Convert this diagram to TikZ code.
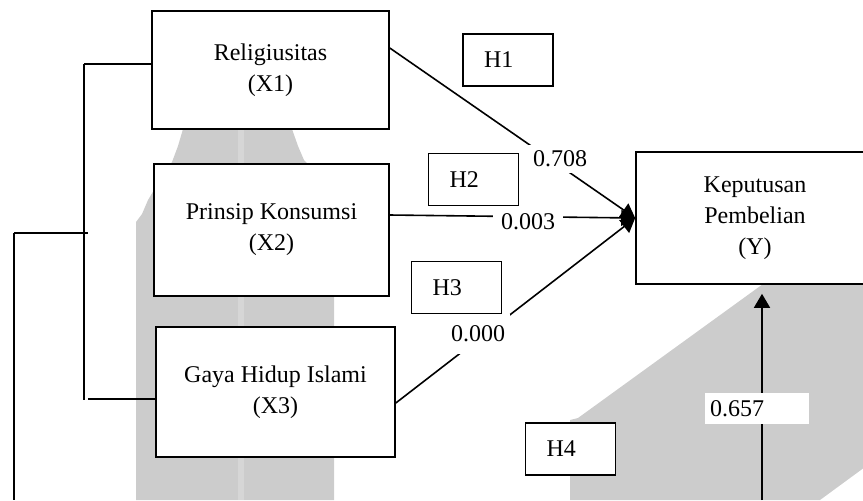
\documentclass[tikz,border=0pt]{standalone}
\usepackage{fontspec}
\setmainfont{Liberation Serif}
\usetikzlibrary{arrows.meta,calc}
\begin{document}
\begin{tikzpicture}[x=0.5pt,y=-0.5pt,
  every node/.style={font=\fontsize{12}{15.5}\selectfont},
  var/.style={draw, line width=0.8pt, fill=white, align=center, inner sep=0pt},
  hyp/.style={draw, line width=0.8pt, fill=white, align=left, inner xsep=10.5pt, inner ysep=0pt, text width=24pt, minimum height=26pt},
  coef/.style={fill=white, inner sep=0pt},
  link/.style={line width=0.8pt},
  arr/.style={line width=0.8pt, -{Triangle[length=7pt,width=8pt]}},
  wm/.style={fill=black!20, draw=none}]
\useasboundingbox (0,0) rectangle (863,500);
\clip (0,0) rectangle (863,500);
% watermark
\path[wm] (136,500) -- (136,222) -- (142,214) -- (148,200) -- (160,180) -- (172,162) -- (178,146) -- (183,129) -- (183,120) -- (292,120) -- (292,129) -- (298,146) -- (304,160) -- (310,166) -- (334,222) -- (334,500) -- cycle;
\path[fill=black!16] (238,120) rectangle (244,500);
\path[wm] (763,284) -- (880,284) -- (880,456) -- (820,500) -- (570,500) -- (570,420) -- (578,418) -- cycle;
% variable boxes
\node[var, minimum width=118.5pt, minimum height=59pt] (x1) at (270.5,70) {Religiusitas\\(X1)};
\node[var, minimum width=117.5pt, minimum height=66pt] (x2) at (271.5,230) {Prinsip Konsumsi\\(X2)};
\node[var, minimum width=119.5pt, minimum height=65pt] (x3) at (275.5,392) {Gaya Hidup Islami\\(X3)};
\node[var, minimum width=119pt, minimum height=66pt] (y) at (755,218) {Keputusan\\Pembelian\\(Y)};
% hypothesis boxes
\node[hyp] (h1) at (508,60) {H1};
\node[hyp] (h2) at (473.5,179.5) {H2};
\node[hyp] (h3) at (456.5,287.5) {H3};
\node[hyp] (h4) at (570.5,449) {H4};
% helper coordinates
\coordinate (o1) at (389,48);
\coordinate (o2) at (389,215);
\coordinate (o3) at (395,403);
\coordinate (b1) at (84,64);
\coordinate (b1e) at (84,400);
\coordinate (b3) at (88,399);
\coordinate (b2a) at (14,233);
\coordinate (b2b) at (88,233);
\coordinate (b0) at (14,500);
\coordinate (b4) at (762,500);
% bracket lines
\draw[link] (b1) -- (x1.west |- b1);
\draw[link] (b1) -- (b1e);
\draw[link] (b3) -- (x3.west |- b3);
\draw[link] (b2a) -- (b2b);
\draw[link] (b2a) -- (b0);
% arrows
\draw[arr] (x1.east |- o1) -- (y.west);
\draw[arr] (x2.east |- o2) -- (y.west);
\draw[arr] (x3.east |- o3) -- (y.west);
\draw[arr, shorten >=4.5pt] (b4) -- (y.south -| b4);
% coefficients
\node[coef, minimum width=33pt, minimum height=14pt] (c1) at (560,159) {0.708};
\node[coef, minimum width=35pt, minimum height=15pt] (c2) at (528,222) {0.003};
\node[coef, minimum width=32pt, minimum height=20pt] (c3) at (478,334) {0.000};
\node[coef, align=left, text width=47pt, inner xsep=2.5pt, minimum height=15.5pt] (c4) at (757,408.5) {0.657};
\end{tikzpicture}
\end{document}
